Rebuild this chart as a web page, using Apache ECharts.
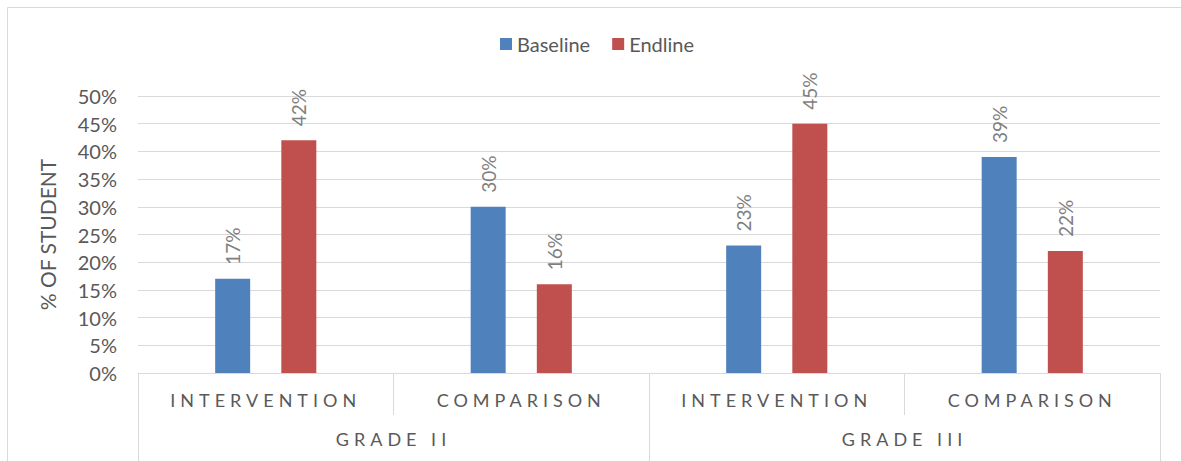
<!DOCTYPE html>
<html>
<head>
<meta charset="utf-8">
<script src="https://cdn.jsdelivr.net/npm/echarts@6/dist/echarts.min.js"></script>
<style>
  html, body { margin: 0; padding: 0; background: #fff; }
  #chart { width: 1181px; height: 461px; }
  /* letter spacing for the category labels (marked by their font stack) */
  #chart text[style*="sans-serif"] { letter-spacing: 5px; }
</style>
</head>
<body>
<div id="chart"></div>
<script>
// 数据
const groups = ['INTERVENTION', 'COMPARISON', 'INTERVENTION', 'COMPARISON'];
const grades = ['GRADE II', 'GRADE III'];
const baseline = [17, 30, 23, 39];
const endline = [42, 16, 45, 22];
const yTicks = [0, 50, 5]; // min, max, interval

const gridColor = '#d9d9d9';
const textColor = '#595959';

const myChart = echarts.init(document.getElementById('chart'), null, { renderer: 'svg' });

const labelStyle = {
  show: true,
  position: 'top',
  rotate: 90,
  align: 'left',
  verticalAlign: 'middle',
  distance: 14,
  color: '#7f7f7f',
  fontSize: 19,
  fontFamily: 'Lato',
  formatter: (p) => p.value + '%',
};

const option = {
  animation: false,
  graphic: [
    {
      type: 'rect',
      shape: { x: 7.5, y: 7.5, width: 1300, height: 600 },
      style: { fill: 'none', stroke: gridColor, lineWidth: 1 },
      silent: true,
    },
  ],
  legend: {
    left: 495,
    top: 29,
    itemWidth: 12,
    itemHeight: 12,
    itemGap: 22,
    icon: 'rect',
    textStyle: { color: textColor, fontSize: 20, fontFamily: 'Lato' },
    data: ['Baseline', 'Endline'],
  },
  grid: {
    left: 138,
    right: 21,
    top: 96,
    bottom: 88,
  },
  xAxis: [
    {
      type: 'category',
      data: groups,
      position: 'bottom',
      axisLine: { show: true, lineStyle: { color: gridColor } },
      axisTick: { show: true, length: 42, interval: 0, lineStyle: { color: gridColor } },
      axisLabel: {
        interval: 0,
        margin: 18,
        color: textColor,
        fontSize: 18,
        fontFamily: 'Lato, sans-serif',
      },
    },
    {
      type: 'category',
      data: grades,
      position: 'bottom',
      offset: 0,
      axisLine: { show: false },
      axisTick: { show: true, length: 90, interval: 0, lineStyle: { color: gridColor } },
      axisLabel: {
        interval: 0,
        margin: 57,
        color: textColor,
        fontSize: 18,
        fontFamily: 'Lato, sans-serif',
      },
    },
  ],
  yAxis: {
    type: 'value',
    min: yTicks[0],
    max: yTicks[1],
    interval: yTicks[2],
    name: '% OF STUDENT',
    nameLocation: 'middle',
    nameGap: 80,
    nameRotate: 90,
    nameTextStyle: { color: textColor, fontSize: 21, fontFamily: 'Lato' },
    axisLine: { show: false },
    axisTick: { show: false },
    axisLabel: {
      margin: 21,
      color: textColor,
      fontSize: 20,
      fontFamily: 'Lato',
      formatter: '{value}%',
    },
    splitLine: { lineStyle: { color: gridColor, width: 1 } },
  },
  series: [
    {
      name: 'Baseline',
      type: 'bar',
      xAxisIndex: 0,
      data: baseline,
      barWidth: 35,
      barGap: '89%',
      itemStyle: { color: '#4f81bd' },
      label: labelStyle,
    },
    {
      name: 'Endline',
      type: 'bar',
      xAxisIndex: 0,
      data: endline,
      barWidth: 35,
      itemStyle: { color: '#c0504d' },
      label: labelStyle,
    },
  ],
};

myChart.setOption(option);
</script>
</body>
</html>
